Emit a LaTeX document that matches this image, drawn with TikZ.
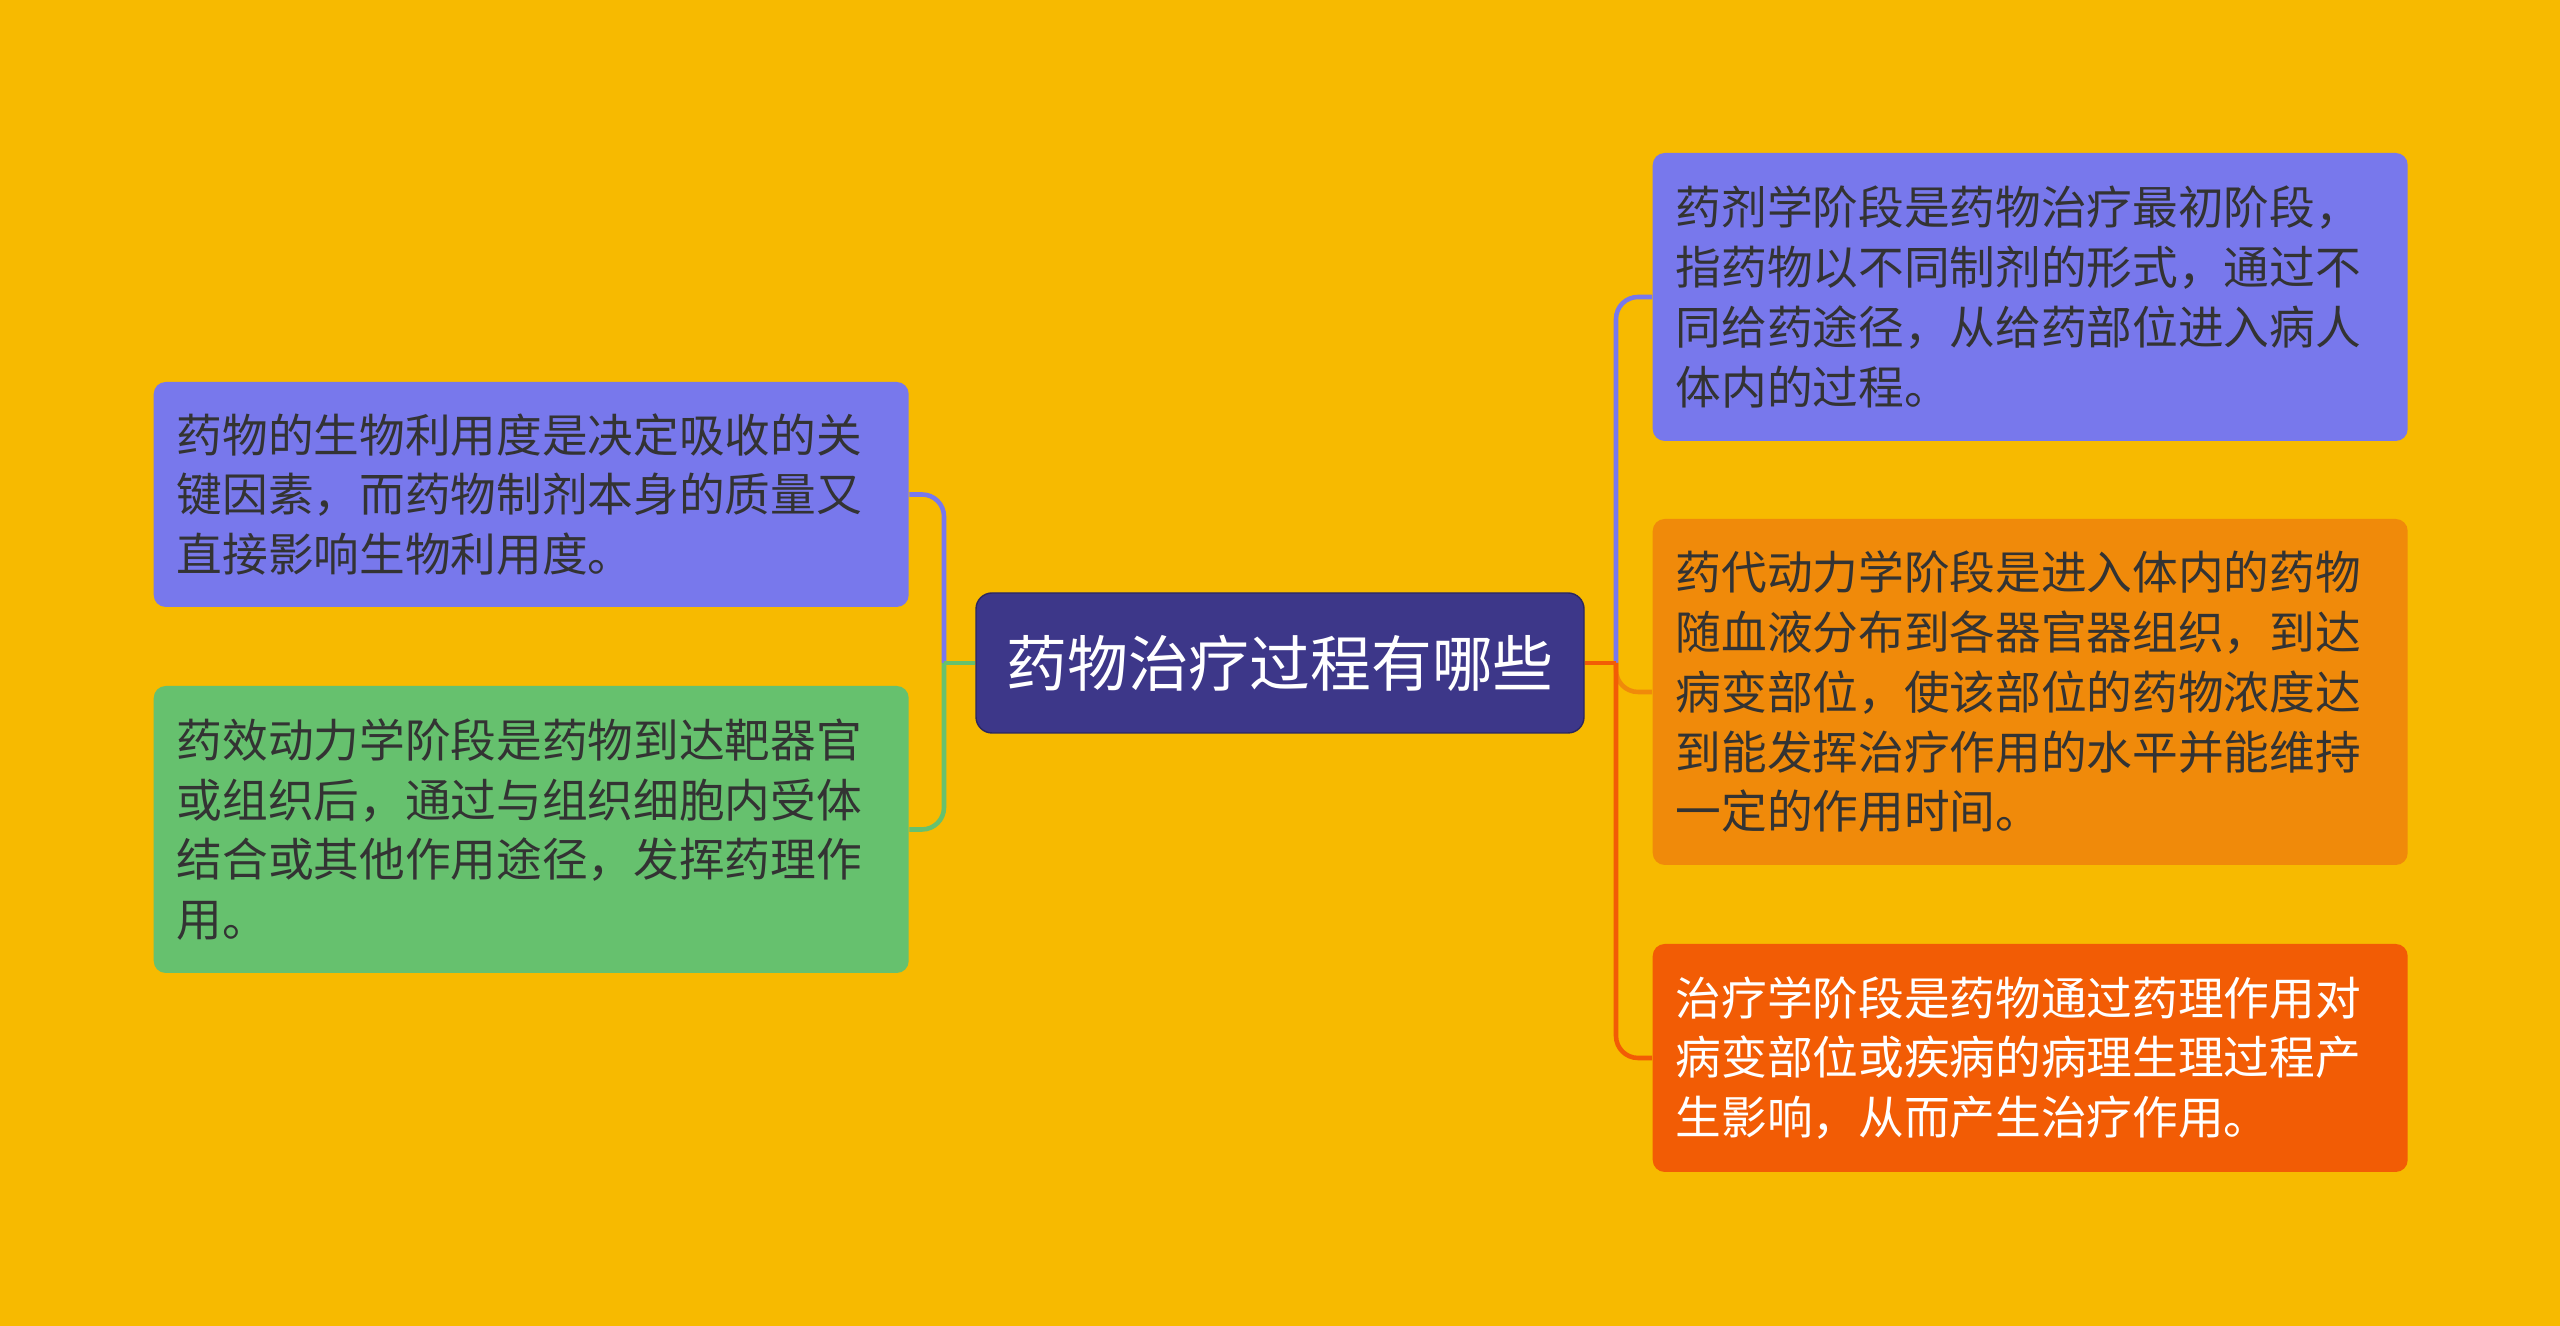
\documentclass[tikz,border=0pt]{standalone}
\usepackage{fontspec}
\setmainfont{Noto Sans CJK SC}
\definecolor{bgyellow}{HTML}{F7BA00}
\definecolor{rootblue}{HTML}{3D3789}
\definecolor{lilac}{HTML}{7878EC}
\definecolor{leafgreen}{HTML}{66C16E}
\definecolor{amber}{HTML}{F08A0A}
\definecolor{flame}{HTML}{F25C05}
\definecolor{inkgrey}{HTML}{333333}

\tikzset{
  rootbox/.style={fill=rootblue, draw=rootblue!70!black, line width=0.4pt, rounded corners=1.6mm,
    text=white, font=\fontsize{17.3pt}{21pt}\selectfont,
    minimum width=6.08cm, minimum height=1.40cm, inner sep=0pt},
  leafbox/.style={rounded corners=1.2mm, text=inkgrey, align=left,
    font=\fontsize{13pt}{17pt}\selectfont,
    text width=7.09cm, inner xsep=0.23cm, inner ysep=0pt,
    minimum width=7.55cm, anchor=west},
  branch/.style={line width=1.3pt, rounded corners=2.2mm},
}

\begin{document}
\begin{tikzpicture}

  % --- 背景 ---
  \fill[bgyellow] (0,0) rectangle (25.6,13.26);
  \useasboundingbox (0,0) rectangle (25.6,13.26);

  % --- 中心主题 ---
  \node[rootbox] (root) at (12.80,6.63) {药物治疗过程有哪些};

  % --- 左侧分支 ---
  \node[leafbox, fill=lilac, minimum height=2.25cm] (bioavail) at (1.53,8.315)
    {药物的生物利用度是决定吸收的关\\键因素，而药物制剂本身的质量又\\直接影响生物利用度。};
  \node[leafbox, fill=leafgreen, minimum height=2.87cm] (pharmdyn) at (1.53,4.965)
    {药效动力学阶段是药物到达靶器官\\或组织后，通过与组织细胞内受体\\结合或其他作用途径，发挥药理作\\用。};

  % --- 右侧分支 ---
  \node[leafbox, fill=lilac, minimum height=2.88cm] (pharmaceut) at (16.52,10.29)
    {药剂学阶段是药物治疗最初阶段，\\指药物以不同制剂的形式，通过不\\同给药途径，从给药部位进入病人\\体内的过程。};
  \node[leafbox, fill=amber, minimum height=3.46cm] (pharmkin) at (16.52,6.34)
    {药代动力学阶段是进入体内的药物\\随血液分布到各器官器组织，到达\\病变部位，使该部位的药物浓度达\\到能发挥治疗作用的水平并能维持\\一定的作用时间。};
  \node[leafbox, fill=flame, text=white, minimum height=2.28cm] (therapy) at (16.52,2.68)
    {治疗学阶段是药物通过药理作用对\\病变部位或疾病的病理生理过程产\\生影响，从而产生治疗作用。};

  % --- 连接线 ---
  \coordinate (lhub) at (9.44,6.63);
  \coordinate (rhub) at (16.16,6.63);
  \draw[branch, lilac] (lhub) |- (bioavail.east);
  \draw[branch, leafgreen] (lhub) |- (pharmdyn.east);
  \draw[line width=1.3pt, leafgreen] (root.west) -- (lhub);
  \draw[branch, lilac] (rhub) |- (pharmaceut.west);
  \draw[branch, amber] (rhub) |- (pharmkin.west);
  \draw[branch, flame] (rhub) |- (therapy.west);
  \draw[line width=1.3pt, flame] (root.east) -- (rhub);

\end{tikzpicture}
\end{document}
